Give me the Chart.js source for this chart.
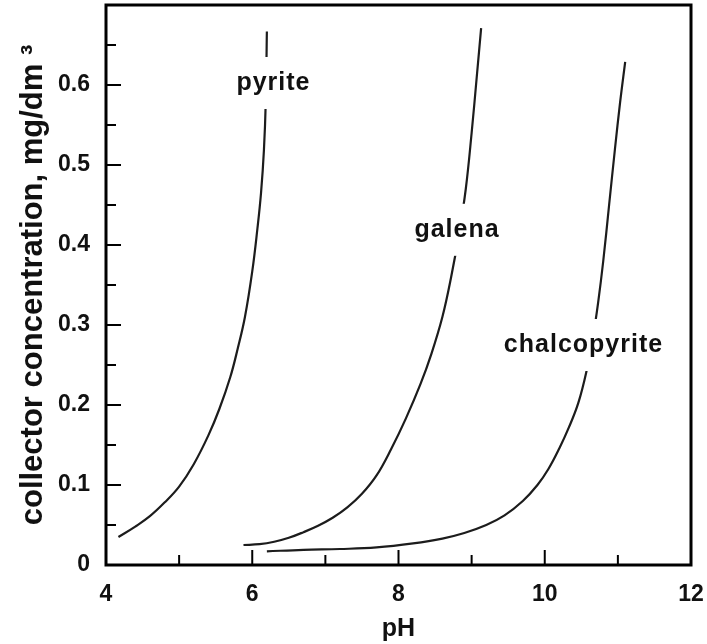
<!DOCTYPE html>
<html>
<head>
<meta charset="utf-8">
<script src="https://cdn.jsdelivr.net/npm/chart.js@4.4.1/dist/chart.umd.min.js"></script>
<style>
  html, body { margin: 0; padding: 0; background: #fff; }
</style>
</head>
<body>
<canvas id="phChart" width="707" height="644"></canvas>
<script>
// values (pH vs collector concentration, mg/dm3)
var pyritePH    = [4.17, 4.4, 4.6, 4.8, 5.0, 5.2, 5.4, 5.55, 5.7, 5.8, 5.9, 6.0, 6.07, 6.12, 6.16, 6.185, 6.2];
var pyriteConc  = [0.035, 0.048, 0.061, 0.078, 0.098, 0.126, 0.162, 0.195, 0.235, 0.27, 0.31, 0.367, 0.42, 0.465, 0.519, 0.58, 0.667];

var galenaPH    = [5.88, 6.1, 6.3, 6.5, 6.7, 6.9, 7.1, 7.3, 7.5, 7.7, 7.9, 8.1, 8.3, 8.45, 8.6, 8.72, 8.83, 8.92, 9.0, 9.07, 9.13];
var galenaConc  = [0.025, 0.026, 0.029, 0.034, 0.041, 0.049, 0.059, 0.072, 0.089, 0.112, 0.145, 0.183, 0.226, 0.264, 0.31, 0.36, 0.415, 0.47, 0.54, 0.61, 0.671];

var chalcoPH    = [6.2, 6.7, 7.2, 7.7, 8.2, 8.6, 8.9, 9.2, 9.45, 9.7, 9.9, 10.05, 10.2, 10.33, 10.46, 10.57, 10.66, 10.73, 10.8, 10.88, 10.96, 11.03, 11.1];
var chalcoConc  = [0.017, 0.019, 0.020, 0.022, 0.027, 0.033, 0.04, 0.05, 0.062, 0.08, 0.1, 0.12, 0.146, 0.172, 0.203, 0.242, 0.285, 0.328, 0.38, 0.45, 0.52, 0.578, 0.629];

var seriesNames = ['pyrite', 'galena', 'chalcopyrite'];

var xTickValues  = [4, 6, 8, 10, 12];
var xMinorValues = [5, 7, 9, 11];
var yTickValues  = [0, 0.1, 0.2, 0.3, 0.4, 0.5, 0.6];
var yMinorValues = [0.05, 0.15, 0.25, 0.35, 0.45, 0.55, 0.65];

// where the curve names sit (in pH / concentration units)
var labelSpots = [
  {pH: 6.29, conc: 0.6025},
  {pH: 8.80, conc: 0.419},
  {pH: 10.53, conc: 0.275}
];

function toPoints(xs, ys){
  return xs.map(function(x, i){ return {x: x, y: ys[i]}; });
}

var FONT = '"Liberation Sans", Arial, sans-serif';
Chart.defaults.font.family = FONT;
Chart.defaults.color = '#111';

var curveLabels = {
  id: 'curveLabels',
  afterDatasetsDraw: function(chart){
    var c = chart.ctx;
    var xs = chart.scales.x, ys = chart.scales.y;
    c.save();
    c.font = 'bold 25px ' + FONT;
    c.letterSpacing = '1px';
    c.textAlign = 'center';
    c.textBaseline = 'middle';
    seriesNames.forEach(function(name, i){
      var px = xs.getPixelForValue(labelSpots[i].pH);
      var py = ys.getPixelForValue(labelSpots[i].conc);
      var w = c.measureText(name).width + 8;
      c.fillStyle = '#fff';
      c.fillRect(px - w / 2, py - 26, w, 52);
      c.fillStyle = '#111';
      c.fillText(name, px, py);
    });
    c.restore();
  }
};

var frameTicks = {
  id: 'frameTicks',
  afterDraw: function(chart){
    var c = chart.ctx, a = chart.chartArea;
    var xs = chart.scales.x, ys = chart.scales.y;
    c.save();
    c.strokeStyle = '#000';
    c.lineWidth = 2;
    function yTick(v, len){
      var p = ys.getPixelForValue(v);
      c.beginPath(); c.moveTo(a.left, p); c.lineTo(a.left + len, p); c.stroke();
    }
    function xTick(v, len){
      var p = xs.getPixelForValue(v);
      c.beginPath(); c.moveTo(p, a.bottom); c.lineTo(p, a.bottom - len); c.stroke();
    }
    yTickValues.forEach(function(v){ yTick(v, 15); });
    yMinorValues.forEach(function(v){ yTick(v, 10); });
    xTickValues.forEach(function(v){ xTick(v, 15); });
    xMinorValues.forEach(function(v){ xTick(v, 10); });
    c.lineWidth = 3;
    c.strokeRect(a.left, a.top, a.right - a.left, a.bottom - a.top);
    c.restore();
  }
};

var ctx = document.getElementById('phChart').getContext('2d');
var curveStyle = {
  borderColor: '#1c1c1c',
  borderWidth: 2.2,
  pointRadius: 0,
  fill: false,
  tension: 0.4
};

var myChart = new Chart(ctx, {
  type: 'line',
  plugins: [curveLabels, frameTicks],
  data: {
    datasets: [
      Object.assign({label: seriesNames[0], data: toPoints(pyritePH, pyriteConc)}, curveStyle),
      Object.assign({label: seriesNames[1], data: toPoints(galenaPH, galenaConc)}, curveStyle),
      Object.assign({label: seriesNames[2], data: toPoints(chalcoPH, chalcoConc)}, curveStyle)
    ]
  },
  options: {
    responsive: false,
    animation: false,
    layout: { padding: { left: 0, right: 16, top: 5, bottom: 0 } },
    plugins: {
      legend: { display: false },
      tooltip: { enabled: false }
    },
    scales: {
      x: {
        type: 'linear',
        min: 4,
        max: 12,
        grid: { display: false, drawTicks: false },
        border: { display: false },
        afterBuildTicks: function(scale){
          scale.ticks = xTickValues.map(function(v){ return {value: v}; });
        },
        afterFit: function(scale){
          scale.height = 79;
          scale.paddingLeft = 0; scale.paddingRight = 0;
        },
        ticks: {
          padding: 16,
          maxRotation: 0,
          font: { size: 23, weight: 'bold' },
          callback: function(v){ return String(v); }
        },
        title: {
          display: true,
          text: 'pH',
          font: { size: 25, weight: 'bold' },
          padding: { top: 0, bottom: 0 }
        }
      },
      y: {
        type: 'linear',
        min: 0,
        max: 0.7,
        grid: { display: false, drawTicks: false },
        border: { display: false },
        afterBuildTicks: function(scale){
          scale.ticks = yTickValues.map(function(v){ return {value: v}; });
        },
        afterFit: function(scale){
          scale.width = 106;
          scale.paddingTop = 0; scale.paddingBottom = 0;
        },
        ticks: {
          padding: 16,
          font: { size: 23, weight: 'bold' },
          callback: function(v){ return v === 0 ? '0' : v.toFixed(1); }
        },
        title: {
          display: true,
          text: 'collector concentration, mg/dm ³',
          font: { size: 31, weight: 'bold' },
          padding: { top: 15, bottom: 0 }
        }
      }
    }
  }
});
</script>
</body>
</html>
